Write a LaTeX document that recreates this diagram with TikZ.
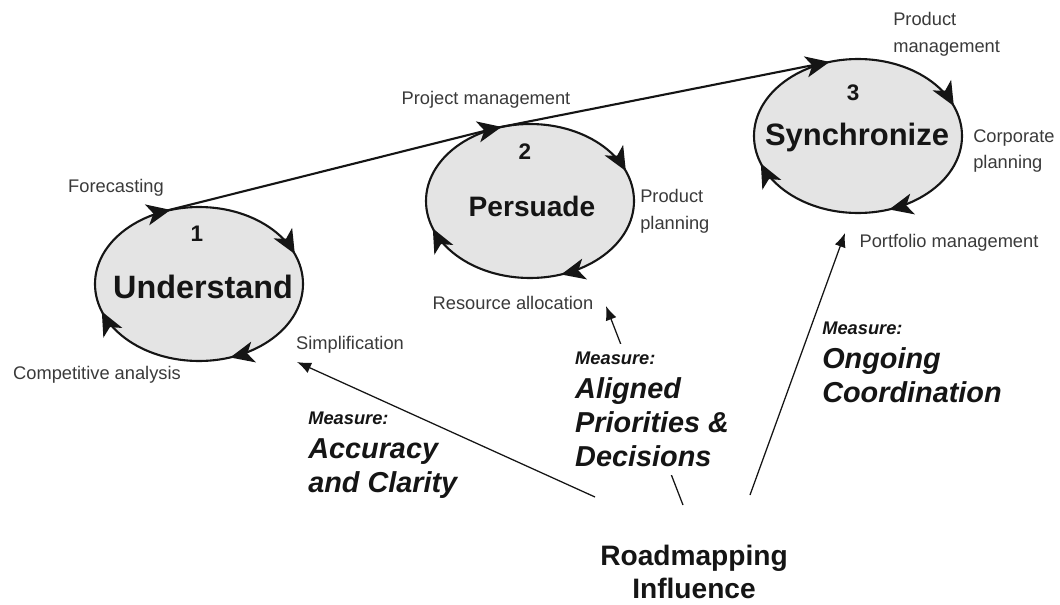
\documentclass[tikz,border=0pt]{standalone}
\usepackage{fontspec}
\setmainfont{Liberation Sans}
\usetikzlibrary{arrows.meta,decorations.markings}
\definecolor{tinta}{HTML}{151515}
\definecolor{gris}{HTML}{3A3A3A}
\definecolor{relleno}{HTML}{E4E4E4}

\begin{document}
\begin{tikzpicture}[x=0.025cm, y=-0.025cm,
    etapa/.style={draw=tinta, line width=1.5pt, fill=relleno, postaction={decorate},
      decoration={markings,
        mark=at position 0.195 with {\arrow{Stealth[length=17pt,width=15pt,inset=4.5pt]}},
        mark=at position 0.45 with {\arrow{Stealth[length=17pt,width=15pt,inset=4.5pt]}},
        mark=at position 0.70 with {\arrow{Stealth[length=17pt,width=15pt,inset=4.5pt]}},
        mark=at position 0.945 with {\arrow{Stealth[length=17pt,width=15pt,inset=4.5pt]}},
        mark=at position 0.692 with {\coordinate (#1);}}},
    fase/.style={font=\fontsize{23}{27}\selectfont\bfseries, text=tinta, inner sep=0pt},
    numero/.style={font=\fontsize{16}{18}\selectfont\bfseries, text=tinta, inner sep=0pt},
    tarea/.style={font=\fontsize{13}{19}\selectfont, text=gris, inner sep=0pt, align=left},
    medida/.style={font=\fontsize{20.5}{24}\selectfont\bfseries\itshape, text=tinta,
      inner sep=0pt, align=left, anchor=north west},
    medir/.style={draw=tinta, line width=0.9pt, -{Latex[length=10pt,width=8pt]}}]
  \useasboundingbox (0,0) rectangle (1060,605);

  % the three stages
  \coordinate (c1) at (199,284);
  \coordinate (c2) at (530,201);
  \coordinate (c3) at (858,136);
  \draw[etapa=e1in] (c1) ellipse [x radius=104, y radius=77];
  \draw[etapa=e2in] (c2) ellipse [x radius=104, y radius=77];
  \draw[etapa=e3in] (c3) ellipse [x radius=104, y radius=77];
  \draw[draw=tinta, line width=1.5pt] (e1in) -- (e2in) -- (e3in);

  \node[numero] (n1) at (197,234) {1};
  \node[fase] (understand) at (203,287) {Understand};
  \node[numero] (n2) at (525,152) {2};
  \node[fase, font=\fontsize{20}{24}\selectfont\bfseries] (persuade) at (532,206) {Persuade};
  \node[numero] (n3) at (853,93) {3};
  \node[fase, font=\fontsize{22}{26}\selectfont\bfseries] (synchronize) at (857,138) {Synchronize};

  % activities round each stage
  \node[tarea] (forecasting) at (116,188) {Forecasting};
  \node[tarea] (competitive) at (97,375) {Competitive analysis};
  \node[tarea] (simplification) at (350,345) {Simplification};
  \node[tarea] (project) at (486,100) {Project management};
  \node[tarea, anchor=west] (productpl) at (640,211) {Product\\planning};
  \node[tarea] (resource) at (513,303) {Resource allocation};
  \node[tarea, anchor=west] (productmg) at (893,34) {Product\\management};
  \node[tarea, anchor=west] (corporate) at (973,151) {Corporate\\planning};
  \node[tarea] (portfolio) at (949,243) {Portfolio management};

  % influence and measures
  \node[font=\fontsize{20}{23}\selectfont\bfseries, text=tinta, align=center, inner sep=0pt,
    anchor=north] (rmi) at (694,545) {Roadmapping\\Influence};
  \coordinate (desde-a) at (595,497);
  \coordinate (hacia-a) at (297,362);
  \coordinate (desde-b) at (683,505);
  \coordinate (hacia-b) at (606,306);
  \coordinate (desde-c) at (750,495);
  \coordinate (hacia-c) at (845,233);
  \draw[medir] (desde-a) -- (hacia-a);
  \draw[medir] (desde-b) -- (hacia-b);
  \draw[medir] (desde-c) -- (hacia-c);

  \node[medida] (accuracy) at (308,412)
    {{\fontsize{13}{15}\selectfont Measure:}\\Accuracy\\and Clarity};
  \node[medida, fill=white, inner sep=6pt] (aligned) at (566.5,343.5)
    {{\fontsize{13}{15}\selectfont Measure:}\\Aligned\\Priorities \&\\Decisions};
  \node[medida] (ongoing) at (822,322)
    {{\fontsize{13}{15}\selectfont Measure:}\\Ongoing\\Coordination};
\end{tikzpicture}
\end{document}
